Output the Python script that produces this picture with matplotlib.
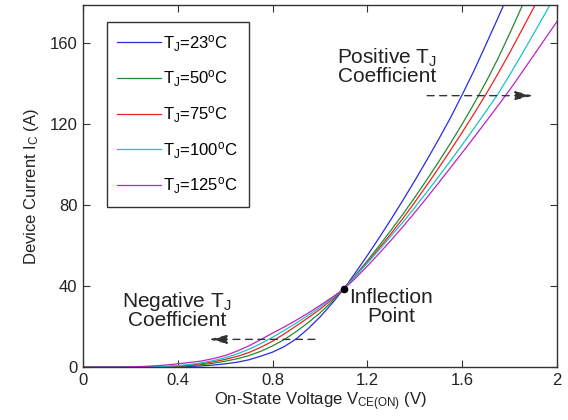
import matplotlib
matplotlib.use('Agg')
import matplotlib.pyplot as plt

# on-state voltage grid (V)
voltage = [0.00, 0.05, 0.10, 0.15, 0.20, 0.25, 0.30, 0.35, 0.40, 0.45,
           0.50, 0.55, 0.60, 0.65, 0.70, 0.75, 0.80, 0.85, 0.90, 0.95,
           1.00, 1.05, 1.10, 1.15, 1.20, 1.25, 1.30, 1.35, 1.40, 1.45,
           1.50, 1.55, 1.60, 1.65, 1.70, 1.75, 1.80, 1.85, 1.90, 1.95, 2.00]

# device current (A) for each junction temperature
i_23 = [0, 0, 0, 0, 0, 0, 0, 0, 0.1, 0.3,
        0.6, 1.0, 1.6, 2.4, 3.6, 5.4, 7.4, 10.2, 14.0, 19.0,
        24.8, 31.4, 38.6, 46.8, 55.3, 64.1, 73.2, 82.6, 92.3, 102.3,
        112.6, 123.3, 134.8, 146.8, 159.6, 172.6, 185.8, 199.0, 212.0, 225.5, 239.0]
i_50 = [0, 0, 0, 0, 0, 0, 0, 0.1, 0.35, 0.7,
        1.2, 1.9, 2.9, 4.1, 5.7, 7.8, 10.5, 13.7, 17.6, 22.0,
        26.8, 32.4, 38.6, 45.5, 52.7, 60.1, 67.8, 75.7, 84.0, 92.6,
        101.5, 110.7, 120.3, 130.4, 141.0, 152.5, 165.0, 178.0, 191.0, 204.0, 217.0]
i_75 = [0, 0, 0, 0, 0, 0, 0.05, 0.2, 0.5, 1.0,
        1.7, 2.6, 3.8, 5.3, 7.2, 9.8, 12.8, 16.5, 20.4, 24.4,
        28.6, 33.4, 38.6, 45.2, 51.9, 58.9, 66.1, 73.6, 81.6, 89.9,
        98.4, 107.2, 116.2, 125.4, 135.0, 145.0, 155.5, 166.5, 177.5, 188.5, 199.5]
i_100 = [0, 0, 0, 0, 0, 0.05, 0.15, 0.35, 0.7, 1.3,
         2.1, 3.2, 4.6, 6.5, 8.8, 11.6, 14.8, 18.2, 21.8, 25.6,
         29.6, 34.0, 38.6, 45.0, 51.5, 58.1, 64.9, 71.7, 79.0, 86.5,
         94.2, 102.0, 110.0, 118.2, 126.5, 135.0, 144.5, 154.5, 164.7, 175.0, 185.5]
i_125 = [0, 0, 0, 0, 0.1, 0.3, 0.6, 1.0, 1.6, 2.3,
         3.0, 4.2, 5.7, 7.9, 10.5, 13.6, 16.8, 19.9, 23.2, 26.7,
         30.5, 34.4, 38.6, 44.0, 50.0, 56.3, 62.8, 69.5, 76.5, 83.7,
         91.1, 98.6, 106.1, 113.7, 121.4, 129.2, 137.1, 145.5, 154.0, 162.5, 171.0]

labels = [r'T$_\mathrm{J}$=23$^\mathrm{o}$C', r'T$_\mathrm{J}$=50$^\mathrm{o}$C',
          r'T$_\mathrm{J}$=75$^\mathrm{o}$C', r'T$_\mathrm{J}$=100$^\mathrm{o}$C',
          r'T$_\mathrm{J}$=125$^\mathrm{o}$C']
colors = ['#2a2ae0', '#228b30', '#f02020', '#18c4c4', '#c020c8']

inflection = (1.1, 38.6)
x_ticks = [0, 0.4, 0.8, 1.2, 1.6, 2]
x_tick_labels = ['0', '0.4', '0.8', '1.2', '1.6', '2']
y_ticks = [0, 40, 80, 120, 160]


def main():
    plt.rcParams['font.family'] = ['Liberation Sans', 'DejaVu Sans']
    plt.rcParams['mathtext.fontset'] = 'custom'
    plt.rcParams['mathtext.rm'] = 'Liberation Sans'
    plt.rcParams['mathtext.it'] = 'Liberation Sans:italic'
    plt.rcParams['font.size'] = 12

    fig = plt.figure(figsize=(5.68, 4.2), dpi=100)
    ax = fig.add_axes([0.146, 0.126, 0.835, 0.862])

    for ys, lab, col in zip([i_23, i_50, i_75, i_100, i_125], labels, colors):
        ax.plot(voltage, ys, color=col, linewidth=0.9, label=lab)

    ax.plot(*inflection, 'o', color='black', markersize=4.5)

    ax.set_xlim(0, 2)
    ax.set_ylim(0, 179)
    ax.set_xticks(x_ticks)
    ax.set_xticklabels(x_tick_labels)
    ax.set_yticks(y_ticks)
    ax.tick_params(direction='in', top=True, right=True, length=5, width=0.8,
                   colors='#333333', labelcolor='#222222', labelsize=12, pad=4)
    for s in ax.spines.values():
        s.set_color('#333333')
        s.set_linewidth(1.0)

    ax.set_xlabel(r'On-State Voltage V$_\mathrm{CE(ON)}$ (V)', fontsize=12, color='#222222', labelpad=2)
    ax.set_ylabel(r'Device Current I$_\mathrm{C}$ (A)', fontsize=12, color='#222222', labelpad=6)

    leg = ax.legend(loc='upper left', bbox_to_anchor=(0.05, 0.953), borderaxespad=0,
                    fontsize=12, handlelength=2.6, handletextpad=0.15, labelspacing=0.9,
                    fancybox=False, framealpha=1, borderpad=0.65)
    leg.get_frame().set_edgecolor('#333333')
    leg.get_frame().set_linewidth(1.0)

    # annotations with dashed arrows
    arrow = dict(arrowstyle='-|>,head_length=0.9,head_width=0.22', linestyle=(0, (5, 4)),
                 color='#333333', linewidth=1.0)
    ax.annotate('', xy=(1.91, 134.2), xytext=(1.44, 134.2), arrowprops=arrow)
    ax.annotate('', xy=(0.52, 13.7), xytext=(0.99, 13.7), arrowprops=arrow)

    ax.text(1.282, 148.6, 'Positive T$_\\mathrm{J}$\nCoefficient', fontsize=15,
            ha='center', va='center', linespacing=0.85, color='#222222')
    ax.text(0.397, 28.2, 'Negative T$_\\mathrm{J}$\nCoefficient', fontsize=15,
            ha='center', va='center', linespacing=0.85, color='#222222')
    ax.text(1.299, 29.7, 'Inflection\nPoint', fontsize=15,
            ha='center', va='center', linespacing=0.95, color='#222222')

    fig.savefig('out.png', dpi=100)


if __name__ == '__main__':
    main()
